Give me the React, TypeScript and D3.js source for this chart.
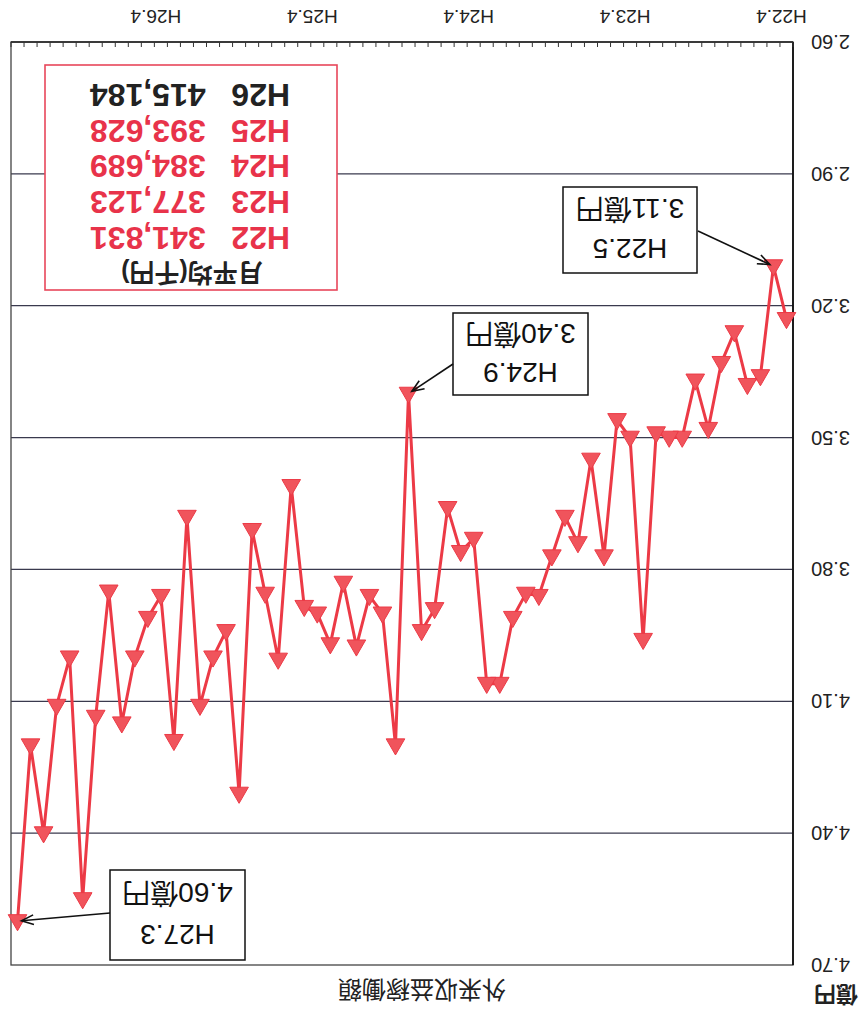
import React from "react";
import * as d3 from "d3";

// Months H22.4 .. H27.3 (fiscal years H22..H26)
const fiscalYears = [22, 23, 24, 25, 26];
const monthOrder = [4, 5, 6, 7, 8, 9, 10, 11, 12, 1, 2, 3];
const months: string[] = [];
fiscalYears.forEach((fy) =>
  monthOrder.forEach((m) => months.push(`H${m <= 3 ? fy + 1 : fy}.${m}`))
);

// 外来収益稼働額 (億円)
const values = [
  3.23, 3.11, 3.36, 3.38, 3.26, 3.33, 3.48, 3.37, 3.5, 3.5, 3.49, 3.96,
  3.5, 3.46, 3.77, 3.55, 3.74, 3.68, 3.77, 3.86, 3.855, 3.91, 4.06, 4.06,
  3.73, 3.76, 3.66, 3.89, 3.94, 3.4, 4.2, 3.9, 3.86, 3.975, 3.83, 3.97,
  3.9, 3.885, 3.61, 4.005, 3.855, 3.71, 4.31, 3.94, 4.0, 4.11, 3.68, 4.19,
  3.86, 3.91, 4.0, 4.15, 3.85, 4.135, 4.55, 4.0, 4.11, 4.4, 4.2, 4.6,
];

const xTickLabels = ["H22.4", "H23.4", "H24.4", "H25.4", "H26.4"];
const yTicks = [2.6, 2.9, 3.2, 3.5, 3.8, 4.1, 4.4, 4.7];

const legendTitle = "月平均(千円)";
const legendYears = ["H22", "H23", "H24", "H25", "H26"];
const legendValues = ["341,831", "377,123", "384,689", "393,628", "415,184"];
const legendColors = ["#e8334a", "#e8334a", "#e8334a", "#e8334a", "#222"];

const calloutMonths = ["H22.5", "H24.9", "H27.3"];
const calloutTexts = ["3.11億円", "3.40億円", "4.60億円"];

const W = 864;
const H = 1015;
const FONT = "'Liberation Sans', Arial, 'Noto Sans CJK JP', sans-serif";
const RED_LINE = "#ec3a46";
const RED_FILL = "#f0545c";

// layout of callout boxes (original orientation)
const calloutBoxes = [
  { x: 167, y: 742, w: 134, h: 86, from: [166, 784] },
  { x: 276, y: 620, w: 135, h: 82, from: [411, 651] },
  { x: 619, y: 55, w: 135, h: 90, from: [754, 102] },
];

export default function App() {
  const left = 71, right = 853, top = 50, bottom = 973;
  const x = d3.scaleBand<string>().domain(months).range([left, right]).padding(0);
  const cx = (m: string) => (x(m) as number) + x.bandwidth() / 2;
  const y = d3.scaleLinear().domain([2.6, 4.7]).range([bottom, top]);

  const data = months.map((m, i) => ({ m, v: values[i] }));
  const line = d3
    .line<{ m: string; v: number }>()
    .x((d) => cx(d.m))
    .y((d) => y(d.v));
  const tri = d3.symbol().type(d3.symbolTriangle).size(150)();

  const boundaries = months.map((m) => x(m) as number).concat([right]);

  const arrow = (x1: number, y1: number, x2: number, y2: number, key: string) => {
    const a = Math.atan2(y2 - y1, x2 - x1);
    const L = 13;
    const s = 0.38;
    const p1 = [x2 - L * Math.cos(a - s), y2 - L * Math.sin(a - s)];
    const p2 = [x2 - L * Math.cos(a + s), y2 - L * Math.sin(a + s)];
    return (
      <g key={key} stroke="#111" strokeWidth={1.6} fill="none">
        <line x1={x1} y1={y1} x2={x2} y2={y2} />
        <polyline points={`${p1[0]},${p1[1]} ${x2},${y2} ${p2[0]},${p2[1]}`} />
      </g>
    );
  };

  return (
    <svg
      width={W}
      height={H}
      style={{ position: "absolute", left: 0, top: 0, background: "#fff" }}
      fontFamily={FONT}
    >
      <rect width={W} height={H} fill="#fff" />
      <g transform={`rotate(180 ${W / 2} ${H / 2})`}>
        {/* gridlines */}
        {yTicks.slice(1, -1).map((t) => (
          <line key={t} x1={left} x2={right} y1={y(t)} y2={y(t)} stroke="#3a3a4e" strokeWidth={1.2} />
        ))}
        {/* frame */}
        <rect x={left} y={top} width={right - left} height={bottom - top} fill="none" stroke="#444" strokeWidth={1.3} />
        <line x1={left} x2={left} y1={top} y2={bottom} stroke="#111" strokeWidth={1.8} />
        <line x1={left} x2={right} y1={bottom} y2={bottom} stroke="#222" strokeWidth={1.5} />
        {/* x ticks */}
        {boundaries.map((b, i) => (
          <line key={i} x1={b} x2={b} y1={bottom} y2={bottom - 5} stroke="#333" strokeWidth={1} />
        ))}
        {/* x labels */}
        {xTickLabels.map((l) => (
          <text key={l} x={cx(l) + 5} y={1005} textAnchor="middle" fontSize={19} fill="#222">
            {l}
          </text>
        ))}
        {/* y labels */}
        {yTicks.map((t) => (
          <text key={t} x={53} y={y(t) + 7} textAnchor="end" fontSize={20} fill="#222">
            {t.toFixed(2)}
          </text>
        ))}
        <text x={6} y={28} fontSize={22} fontWeight={700} fill="#222">億円</text>
        <text x={442} y={34} textAnchor="middle" fontSize={24} fill="#222">外来収益稼働額</text>

        {/* legend box */}
        <rect x={527} y={725} width={292} height={225} fill="#fff" stroke="#e8475a" strokeWidth={1.6} />
        <text x={672} y={751} textAnchor="middle" fontSize={25} fontWeight={700} fill="#222">
          {legendTitle}
        </text>
        {legendYears.map((yr, i) => (
          <g key={yr} fontSize={32} fontWeight={700} fill={legendColors[i]}>
            <text x={574} y={788 + i * 35.8}>{yr}</text>
            <text x={774} y={788 + i * 35.8} textAnchor="end">{legendValues[i]}</text>
          </g>
        ))}

        {/* series */}
        <path d={line(data) as string} fill="none" stroke={RED_LINE} strokeWidth={3} strokeLinejoin="round" />
        {data.map((d) => (
          <path
            key={d.m}
            d={tri as string}
            transform={`translate(${cx(d.m)},${y(d.v) + 1})`}
            fill={RED_FILL}
            stroke={RED_LINE}
            strokeWidth={1}
          />
        ))}

        {/* callouts */}
        {calloutBoxes.map((b, i) => {
          const m = calloutMonths[i];
          const px = cx(m);
          const py = y(values[months.indexOf(m)]);
          const ang = Math.atan2(py - b.from[1], px - b.from[0]);
          const tx = px - 4 * Math.cos(ang);
          const ty = py - 4 * Math.sin(ang);
          return (
            <g key={m}>
              <rect x={b.x} y={b.y} width={b.w} height={b.h} fill="#fff" stroke="#111" strokeWidth={1.5} />
              <text x={b.x + b.w / 2} y={b.y + b.h * 0.39} textAnchor="middle" fontSize={28} fill="#111">
                {m}
              </text>
              <text x={b.x + b.w / 2} y={b.y + b.h * 0.86} textAnchor="middle" fontSize={28} fill="#111">
                {calloutTexts[i]}
              </text>
              {arrow(b.from[0], b.from[1], tx, ty, "a" + m)}
            </g>
          );
        })}
      </g>
    </svg>
  );
}
